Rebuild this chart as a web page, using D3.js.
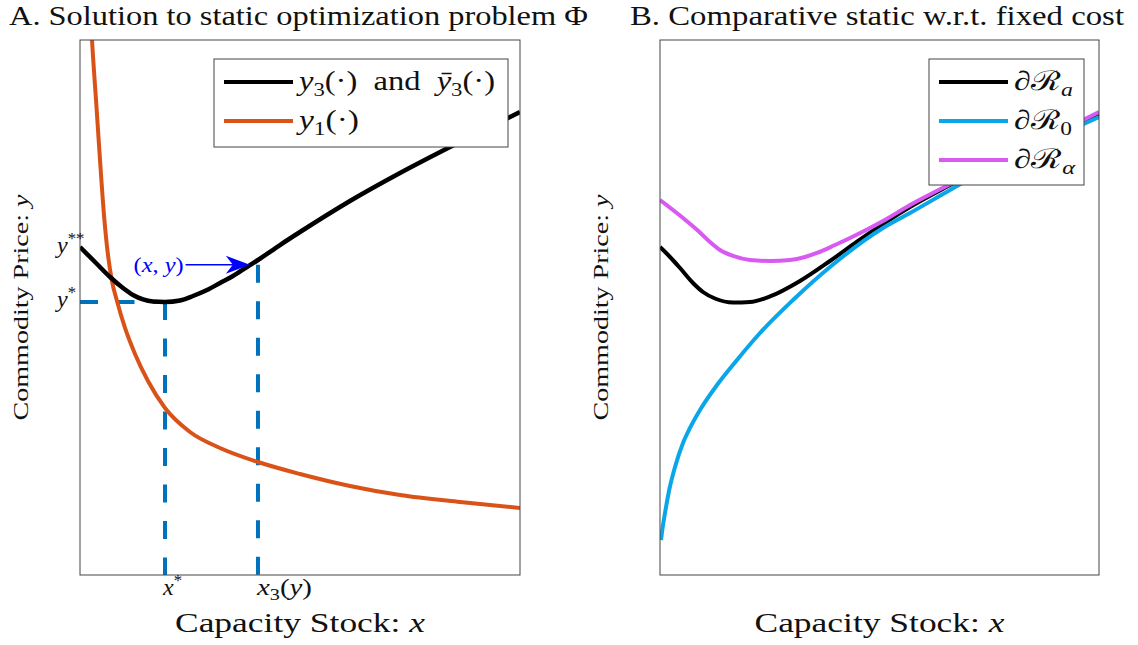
<!DOCTYPE html>
<html>
<head>
<meta charset="utf-8">
<script src="https://cdnjs.cloudflare.com/ajax/libs/d3/7.8.5/d3.min.js"></script>
<style>
body { margin: 0; background: #fff; }
text { font-family: "Liberation Serif", "DejaVu Serif", serif; white-space: pre; fill: #111; }
</style>
</head>
<body>
<div id="chart"></div>
<script>
// panel A curves (axis units 0..10)
var y3X = [0, 0.341, 0.682, 0.977, 1.205, 1.432, 1.659, 1.932, 2.273, 2.568, 2.886, 3.182, 3.477, 3.795, 4.045, 4.545, 5.0, 6.136, 7.273, 8.409, 9.545, 10];
var y3Y = [6.131, 5.850, 5.570, 5.364, 5.234, 5.150, 5.112, 5.103, 5.131, 5.215, 5.327, 5.458, 5.589, 5.757, 5.888, 6.168, 6.411, 6.991, 7.514, 8.0, 8.467, 8.654];
var y1X = [0.25, 0.273, 0.364, 0.455, 0.545, 0.636, 0.727, 0.841, 1.023, 1.25, 1.545, 1.932, 2.5, 3.182, 4.045, 5.0, 6.136, 7.273, 8.636, 10];
var y1Y = [10.35, 10.0, 8.879, 7.757, 6.729, 5.981, 5.495, 5.121, 4.617, 4.131, 3.626, 3.121, 2.673, 2.374, 2.112, 1.888, 1.664, 1.495, 1.364, 1.252];

// panel A annotations
var xStar = 1.932;
var yStar = 5.103;
var yStarStar = 6.131;
var x3y = 4.045;
var yPoint = 5.80;
var arrowX = [2.4, 3.86];

// panel B curves
var raX = [0, 0.228, 0.456, 0.752, 0.979, 1.253, 1.663, 2.050, 2.506, 3.189, 3.872, 4.487, 5.080, 5.695, 6.606, 7.745, 8.884, 10];
var raY = [6.131, 5.944, 5.738, 5.458, 5.290, 5.168, 5.093, 5.103, 5.206, 5.495, 5.869, 6.229, 6.561, 6.879, 7.290, 7.776, 8.206, 8.617];
var r0X = [0.023, 0.046, 0.114, 0.205, 0.342, 0.524, 0.683, 0.911, 1.298, 1.754, 2.278, 3.030, 3.872, 5.080, 5.695, 6.606, 7.745, 8.884, 10];
var r0Y = [0.654, 0.804, 1.159, 1.570, 2.019, 2.467, 2.748, 3.084, 3.551, 4.019, 4.523, 5.140, 5.757, 6.486, 6.766, 7.196, 7.720, 8.150, 8.561];
var ralX = [0, 0.524, 0.843, 1.139, 1.367, 1.663, 2.050, 2.506, 2.961, 3.303, 3.576, 3.986, 4.328, 5.080, 5.695, 6.834, 7.745, 8.884, 10];
var ralY = [7.009, 6.673, 6.452, 6.224, 6.075, 5.963, 5.888, 5.869, 5.888, 5.944, 6.019, 6.168, 6.299, 6.617, 6.916, 7.402, 7.794, 8.206, 8.654];

var titles = ['A. Solution to static optimization problem \u03A6', 'B. Comparative static w.r.t. fixed cost'];
var xLabel = [{t: 'Capacity Stock: '}, {t: 'x', i: 1}];
var yLabel = [{t: 'Commodity Price: '}, {t: 'y', i: 1}];

var legendA = [
    [{t: 'y', i: 1}, {t: '3', sub: 1}, {t: '(\u00B7)  and  '}, {t: '\u0233', i: 1}, {t: '3', sub: 1}, {t: '(\u00B7)'}],
    [{t: 'y', i: 1}, {t: '1', sub: 1}, {t: '(\u00B7)'}]
];
var legendAWidths = [196, 60];
var legendB = [
    [{t: '\u2202\u211B'}, {t: 'a', i: 1, sub: 1}],
    [{t: '\u2202\u211B'}, {t: '0', sub: 1}],
    [{t: '\u2202\u211B'}, {t: '\u03B1', i: 1, sub: 1}]
];
var legendBWidths = [59, 58, 61];

var orange = '#D95319';
var dashBlue = '#0072BD';
var frameColor = '#444';

var svg = d3.select('#chart').append('svg')
    .attr('width', 1138)
    .attr('height', 645);

var mathText = function(parent, parts, size) {
    var off = 0;
    parts.forEach(function(p) {
        var shift = p.sub ? size * 0.22 : (p.sup ? -size * 0.38 : 0);
        parent.append('tspan')
            .attr('dy', shift - off)
            .attr('font-size', shift ? size * 0.7 : size)
            .attr('font-style', p.i ? 'italic' : 'normal')
            .text(p.t);
        off = shift;
    });
    return parent;
};

var zip = function(xs, ys) {
    return xs.map(function(x, i) {
        return [x, ys[i]];
    });
};

var makePanel = function(id, left, right, top, bottom) {
    var x = d3.scaleLinear().domain([0, 10]).range([left, right]);
    var y = d3.scaleLinear().domain([0, 10]).range([bottom, top]);

    svg.append('clipPath')
        .attr('id', 'clip-' + id)
        .append('rect')
        .attr('x', left)
        .attr('y', top)
        .attr('width', right - left)
        .attr('height', bottom - top);

    var g = svg.append('g').attr('clip-path', 'url(#clip-' + id + ')');
    var line = d3.line()
        .x(function(d) { return x(d[0]); })
        .y(function(d) { return y(d[1]); })
        .curve(d3.curveMonotoneX);

    return {x: x, y: y, g: g, line: line, left: left, right: right, top: top, bottom: bottom};
};

var drawFrame = function(p, titleIdx, titleX, titleLen) {
    svg.append('rect')
        .attr('x', p.left)
        .attr('y', p.top)
        .attr('width', p.right - p.left)
        .attr('height', p.bottom - p.top)
        .attr('fill', 'none')
        .attr('stroke', frameColor)
        .attr('stroke-width', 1);

    svg.append('text')
        .attr('x', titleX)
        .attr('y', 25)
        .attr('font-size', 27)
        .attr('textLength', titleLen)
        .attr('lengthAdjust', 'spacingAndGlyphs')
        .text(titles[titleIdx]);

    var cx = (p.left + p.right) / 2;
    mathText(svg.append('text')
        .attr('x', cx)
        .attr('y', 632)
        .attr('text-anchor', 'middle')
        .attr('textLength', 250)
        .attr('lengthAdjust', 'spacingAndGlyphs'), xLabel, 27);

    var cy = (p.top + p.bottom) / 2;
    mathText(svg.append('text')
        .attr('transform', 'translate(' + (p.left - 52) + ',' + cy + ') rotate(-90)')
        .attr('text-anchor', 'middle')
        .attr('textLength', 226)
        .attr('lengthAdjust', 'spacingAndGlyphs'), yLabel, 22);
};

var drawLegend = function(items, widths, colors, bx, by, bw, bh) {
    var lg = svg.append('g');
    lg.append('rect')
        .attr('x', bx)
        .attr('y', by)
        .attr('width', bw)
        .attr('height', bh)
        .attr('fill', '#fff')
        .attr('stroke', frameColor)
        .attr('stroke-width', 1);
    items.forEach(function(parts, i) {
        var ly = by + 23 + i * 39;
        lg.append('line')
            .attr('x1', bx + 10)
            .attr('x2', bx + 79)
            .attr('y1', ly)
            .attr('y2', ly)
            .attr('stroke', colors[i])
            .attr('stroke-width', 4);
        mathText(lg.append('text')
            .attr('x', bx + 85)
            .attr('y', ly + 8)
            .attr('textLength', widths[i])
            .attr('lengthAdjust', 'spacingAndGlyphs'), parts, 27);
    });
};

// ---- panel A
var pa = makePanel('a', 80, 520, 40, 575);
drawFrame(pa, 0, 9, 579);

var dashed = [
    [[0, yStar], [xStar, yStar]],
    [[xStar, yStar], [xStar, 0]],
    [[x3y, yPoint], [x3y, 0]]
];
pa.g.selectAll('line.dash').data(dashed).enter()
    .append('line')
    .attr('class', 'dash')
    .attr('x1', function(d) { return pa.x(d[0][0]); })
    .attr('y1', function(d) { return pa.y(d[0][1]); })
    .attr('x2', function(d) { return pa.x(d[1][0]); })
    .attr('y2', function(d) { return pa.y(d[1][1]); })
    .attr('stroke', dashBlue)
    .attr('stroke-width', 4)
    .attr('stroke-dasharray', '18,18.5');

pa.g.append('path')
    .datum(zip(y1X, y1Y))
    .attr('d', pa.line)
    .attr('fill', 'none')
    .attr('stroke', orange)
    .attr('stroke-width', 4);

pa.g.append('path')
    .datum(zip(y3X, y3Y))
    .attr('d', pa.line)
    .attr('fill', 'none')
    .attr('stroke', '#000')
    .attr('stroke-width', 4.5);

// arrow to (x, y)
var ax0 = pa.x(arrowX[0]), ax1 = pa.x(arrowX[1]), ay = pa.y(yPoint);
svg.append('line')
    .attr('x1', ax0)
    .attr('x2', ax1 - 15)
    .attr('y1', ay)
    .attr('y2', ay)
    .attr('stroke', '#0000FF')
    .attr('stroke-width', 1.5);
svg.append('path')
    .attr('d', 'M' + ax1 + ',' + ay + 'L' + (ax1 - 24) + ',' + (ay - 9) + 'L' + (ax1 - 17) + ',' + ay + 'L' + (ax1 - 24) + ',' + (ay + 9) + 'Z')
    .attr('fill', '#0000FF');
mathText(svg.append('text')
    .attr('x', ax0 - 2)
    .attr('y', ay + 7)
    .attr('text-anchor', 'end')
    .attr('textLength', 50)
    .attr('lengthAdjust', 'spacingAndGlyphs')
    .style('fill', '#0000FF'),
    [{t: '('}, {t: 'x', i: 1}, {t: ', '}, {t: 'y', i: 1}, {t: ')'}], 22);

mathText(svg.append('text').attr('x', pa.left - 23).attr('y', pa.y(yStarStar) + 6),
    [{t: 'y', i: 1}, {t: '**', sup: 1}], 24);
mathText(svg.append('text').attr('x', pa.left - 23).attr('y', pa.y(yStar) + 5),
    [{t: 'y', i: 1}, {t: '*', sup: 1}], 24);
mathText(svg.append('text').attr('x', pa.x(xStar) - 2).attr('y', pa.bottom + 20),
    [{t: 'x', i: 1}, {t: '*', sup: 1}], 24);
mathText(svg.append('text')
    .attr('x', pa.x(x3y) - 1)
    .attr('y', pa.bottom + 20)
    .attr('textLength', 55)
    .attr('lengthAdjust', 'spacingAndGlyphs'),
    [{t: 'x', i: 1}, {t: '3', sub: 1}, {t: '('}, {t: 'y', i: 1}, {t: ')'}], 23);

drawLegend(legendA, legendAWidths, ['#000', orange], 214, 59, 294, 88);

// ---- panel B
var pb = makePanel('b', 660, 1099, 40, 575);
drawFrame(pb, 1, 630, 494);

var seriesB = [
    {x: raX, y: raY, c: '#000'},
    {x: r0X, y: r0Y, c: '#0AA6EA'},
    {x: ralX, y: ralY, c: '#D95AF2'}
];
pb.g.selectAll('path.curve').data(seriesB).enter()
    .append('path')
    .attr('class', 'curve')
    .attr('d', function(s) { return pb.line(zip(s.x, s.y)); })
    .attr('fill', 'none')
    .attr('stroke', function(s) { return s.c; })
    .attr('stroke-width', 4);

drawLegend(legendB, legendBWidths, seriesB.map(function(s) { return s.c; }), 929, 59, 155, 126);
</script>
</body>
</html>
